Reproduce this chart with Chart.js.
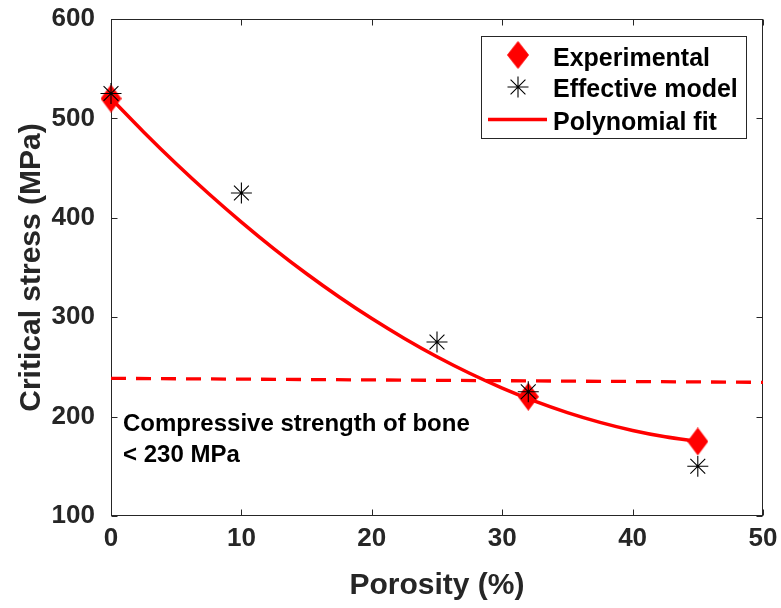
<!DOCTYPE html>
<html>
<head>
<meta charset="utf-8">
<script src="https://cdn.jsdelivr.net/npm/chart.js@4.4.1/dist/chart.umd.min.js"></script>
<style>
  html, body { margin: 0; padding: 0; background: #ffffff; }
  #wrap { width: 781px; height: 608px; position: relative; }
</style>
</head>
<body>
<div id="wrap"><canvas id="c" width="781" height="608"></canvas></div>
<script>
// ---- data ----
const expPorosity = [0, 32, 45];
const expStress = [520, 220, 175];

const modelPorosity = [0, 10, 25, 32, 45];
const modelStress = [525, 425, 275, 225, 150];

const fitPorosity = [0, 2.5, 5, 7.5, 10, 12.5, 15, 17.5, 20, 22.5, 25, 27.5, 30, 32.5, 35, 37.5, 40, 42.5, 45];
const fitStress = [520, 486.4, 454.4, 424.2, 395.7, 368.8, 343.7, 320.3, 298.6, 278.6, 260.2, 243.6, 228.7, 215.5, 204.0, 194.2, 186.1, 179.7, 175.0];

const limitPorosity = [0, 50];
const limitStress = [238.5, 234.5];

const xTicks = [0, 10, 20, 30, 40, 50];
const yTicks = [100, 200, 300, 400, 500, 600];

const legendLabels = ['Experimental', 'Effective model', 'Polynomial fit'];
const noteLines = ['Compressive strength of bone', '< 230 MPa'];

const FONT = "'Liberation Sans', Arial, Helvetica, sans-serif";
const AXIS_COLOR = '#262626';

const pts = (xs, ys) => xs.map((x, i) => ({x: x, y: ys[i]}));

// tall diamond marker (MATLAB style)
function makeDiamond(w, h) {
  const cv = document.createElement('canvas');
  cv.width = w; cv.height = h;
  const g = cv.getContext('2d');
  g.fillStyle = '#ff0000';
  g.beginPath();
  g.moveTo(w / 2, 0);
  g.lineTo(w, h / 2);
  g.lineTo(w / 2, h);
  g.lineTo(0, h / 2);
  g.closePath();
  g.fill();
  return cv;
}
const diamond = makeDiamond(21, 28);

const boxPlugin = {
  id: 'boxPlugin',
  beforeDatasetsDraw(chart) {
    const {ctx, chartArea: a, scales: {x, y}} = chart;
    ctx.save();
    ctx.strokeStyle = AXIS_COLOR;
    ctx.lineWidth = 1;
    const L = Math.round(a.left) + 0.5, R = Math.round(a.right) - 0.5;
    const T = Math.round(a.top) + 0.5, B = Math.round(a.bottom) - 0.5;
    ctx.strokeRect(L, T, R - L, B - T);
    const tl = 6;
    ctx.beginPath();
    xTicks.forEach(v => {
      const px = Math.round(x.getPixelForValue(v)) + 0.5;
      ctx.moveTo(px, B); ctx.lineTo(px, B - tl);
      ctx.moveTo(px, T); ctx.lineTo(px, T + tl);
    });
    yTicks.forEach(v => {
      const py = Math.round(y.getPixelForValue(v)) + 0.5;
      ctx.moveTo(L, py); ctx.lineTo(L + tl, py);
      ctx.moveTo(R, py); ctx.lineTo(R - tl, py);
    });
    ctx.stroke();
    ctx.restore();
  },
  afterDraw(chart) {
    const {ctx, scales: {x, y}} = chart;
    ctx.save();
    // annotation text
    ctx.fillStyle = '#000000';
    ctx.font = 'bold 24px ' + FONT;
    ctx.textAlign = 'left';
    ctx.textBaseline = 'alphabetic';
    const nx = x.getPixelForValue(0) + 12;
    ctx.fillText(noteLines[0], nx, 430.5);
    ctx.fillText(noteLines[1], nx, 461.5);

    // legend
    const bx = 481.5, by = 36.5, bw = 265, bh = 102;
    ctx.fillStyle = '#ffffff';
    ctx.fillRect(bx, by, bw, bh);
    ctx.strokeStyle = AXIS_COLOR;
    ctx.lineWidth = 1;
    ctx.strokeRect(bx, by, bw, bh);

    const mx = 518;
    const rows = [55, 87, 119.5];
    // diamond
    ctx.drawImage(diamond, mx - 11, rows[0] - 14, 22, 28);
    // asterisk
    ctx.strokeStyle = '#000000';
    ctx.lineWidth = 1.1;
    ctx.beginPath();
    const r = 10.5, d = r * Math.SQRT1_2;
    ctx.moveTo(mx - r, rows[1]); ctx.lineTo(mx + r, rows[1]);
    ctx.moveTo(mx, rows[1] - r); ctx.lineTo(mx, rows[1] + r);
    ctx.moveTo(mx - d, rows[1] - d); ctx.lineTo(mx + d, rows[1] + d);
    ctx.moveTo(mx - d, rows[1] + d); ctx.lineTo(mx + d, rows[1] - d);
    ctx.stroke();
    // line
    ctx.strokeStyle = '#ff0000';
    ctx.lineWidth = 3.5;
    ctx.beginPath();
    ctx.moveTo(488, rows[2]); ctx.lineTo(547, rows[2]);
    ctx.stroke();

    ctx.fillStyle = '#000000';
    ctx.font = 'bold 25px ' + FONT;
    ctx.textBaseline = 'alphabetic';
    ctx.fillText(legendLabels[0], 553, 65.5);
    ctx.fillText(legendLabels[1], 553, 97);
    ctx.fillText(legendLabels[2], 553, 129.5);
    ctx.restore();
  }
};

new Chart(document.getElementById('c'), {
  type: 'scatter',
  data: {
    datasets: [
      {
        label: 'Limit',
        type: 'line',
        data: pts(limitPorosity, limitStress),
        borderColor: '#ff0000',
        borderWidth: 3.3,
        borderDash: [15, 10],
        pointRadius: 0,
        fill: false,
        order: 4
      },
      {
        label: legendLabels[2],
        type: 'line',
        data: pts(fitPorosity, fitStress),
        borderColor: '#ff0000',
        borderWidth: 3.5,
        pointRadius: 0,
        tension: 0.3,
        fill: false,
        order: 3
      },
      {
        label: legendLabels[0],
        data: pts(expPorosity, expStress),
        pointStyle: diamond,
        pointRadius: 14,
        clip: false,
        order: 2
      },
      {
        label: legendLabels[1],
        data: pts(modelPorosity, modelStress),
        pointStyle: 'star',
        pointRadius: 10.5,
        borderColor: '#000000',
        backgroundColor: '#000000',
        borderWidth: 1.1,
        clip: false,
        order: 1
      }
    ]
  },
  options: {
    responsive: false,
    animation: false,
    devicePixelRatio: 1,
    layout: { padding: { top: 19, right: 18, left: 0, bottom: 0 } },
    plugins: {
      legend: { display: false },
      tooltip: { enabled: false }
    },
    scales: {
      x: {
        type: 'linear',
        min: 0, max: 50,
        afterBuildTicks(s) { s.ticks = xTicks.map(v => ({value: v})); },
        afterFit(s) { s.height = 92; s.paddingLeft = 0; s.paddingRight = 0; },
        grid: { display: false, drawTicks: false },
        border: { display: false },
        ticks: {
          padding: 7,
          color: AXIS_COLOR,
          font: { family: FONT, size: 26, weight: 'bold' },
          maxRotation: 0
        },
        title: {
          display: true,
          text: 'Porosity (%)',
          color: AXIS_COLOR,
          font: { family: FONT, size: 30, weight: 'bold' },
          padding: { top: 0, bottom: 4 }
        }
      },
      y: {
        type: 'linear',
        min: 100, max: 600,
        afterBuildTicks(s) { s.ticks = yTicks.map(v => ({value: v})); },
        afterFit(s) { s.width = 111; s.paddingTop = 0; s.paddingBottom = 0; },
        grid: { display: false, drawTicks: false },
        border: { display: false },
        ticks: {
          padding: 16,
          color: AXIS_COLOR,
          font: { family: FONT, size: 26, weight: 'bold' }
        },
        title: {
          display: true,
          text: 'Critical stress (MPa)',
          color: AXIS_COLOR,
          font: { family: FONT, size: 30, weight: 'bold' },
          padding: { top: 14, bottom: 0 }
        }
      }
    }
  },
  plugins: [boxPlugin]
});
</script>
</body>
</html>
